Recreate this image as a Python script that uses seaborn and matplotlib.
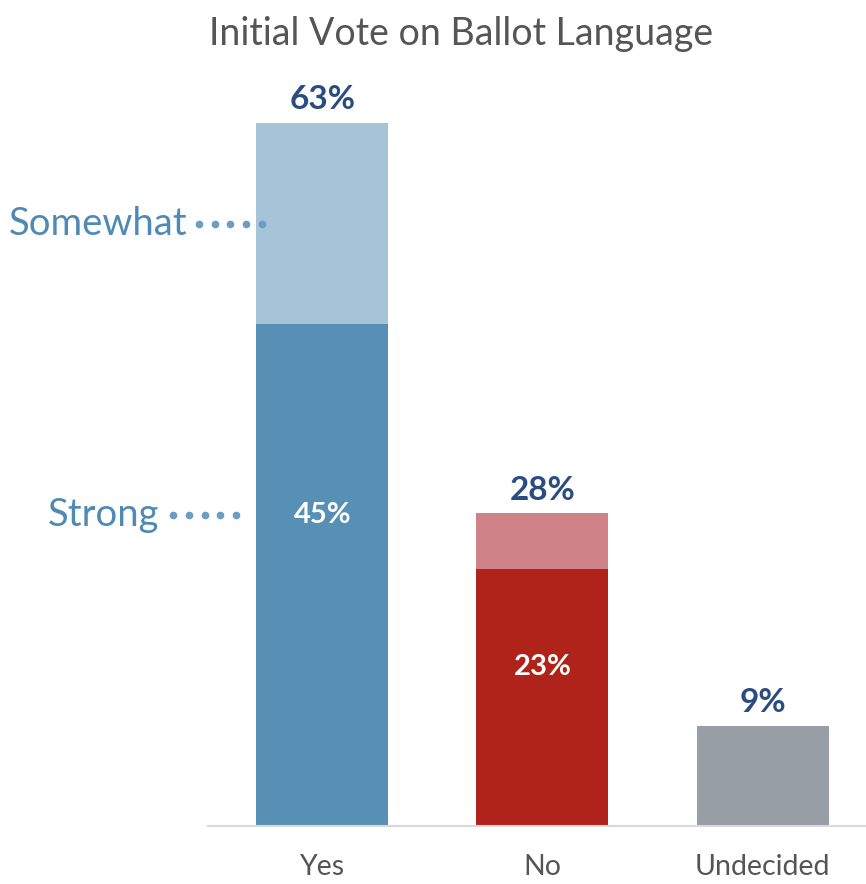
import seaborn as sns
import pandas as pd
import numpy as np
import matplotlib.pyplot as plt

# 데이터
categories = ['Yes', 'No', 'Undecided']
total_vote = [63, 28, 9]
strong_vote = [45, 23, 0]
total_labels = ['63%', '28%', '9%']
strong_labels = ['45%', '23%', '']

light_colors = ['#a5c4d8', '#cf8388', '#979ea5']
dark_colors = ['#578fb5', '#b0231b', '#979ea5']

df = pd.DataFrame({'answer': categories, 'total': total_vote, 'strong': strong_vote})

sns.set_style('white')
plt.rcParams['font.family'] = ['Lato', 'DejaVu Sans']

fig = plt.figure(figsize=(8.66, 8.84), dpi=100)
ax = fig.add_axes([0.240, 0.0656, 0.760, 0.884])

sns.barplot(data=df, x='answer', y='total', hue='answer', palette=light_colors,
            width=0.6, legend=False, ax=ax, saturation=1, linewidth=0)
sns.barplot(data=df, x='answer', y='strong', hue='answer', palette=dark_colors,
            width=0.6, legend=False, ax=ax, saturation=1, linewidth=0)

ax.set_xlim(-0.52, 2.47)
ax.set_ylim(0, 70)

# 막대 위 라벨
for i, (t, lab) in enumerate(zip(total_vote, total_labels)):
    ax.annotate(lab, (i, t), xytext=(0, 6), textcoords='offset points',
                ha='center', va='bottom', fontsize=24, fontweight='bold', color='#2b4c80')
for i, (s, lab) in enumerate(zip(strong_vote, strong_labels)):
    if lab:
        ax.text(i, s * 0.62, lab, ha='center', va='center', fontsize=21,
                fontweight='bold', color='white')

# 왼쪽 설명 라벨 + 점선
somewhat_y = (strong_vote[0] + total_vote[0]) / 2 - 0.1
strong_y = strong_vote[0] * 0.62
ax.text(-0.615, somewhat_y, 'Somewhat', ha='right', va='center', fontsize=27.5,
        color='#4f8ab5', clip_on=False)
ax.plot(np.linspace(-0.56, -0.275, 5), [somewhat_y] * 5, 'o', ms=4.5,
        color='#6b9cc2', clip_on=False)
ax.text(-0.74, strong_y, 'Strong', ha='right', va='center', fontsize=27.5,
        color='#4f8ab5', clip_on=False)
ax.plot(np.linspace(-0.68, -0.39, 5), [strong_y] * 5, 'o', ms=4.5,
        color='#6b9cc2', clip_on=False)

ax.set_xlabel('')
ax.set_ylabel('')
ax.set_yticks([])
ax.tick_params(axis='x', labelsize=20.5, labelcolor='#555555', length=0, pad=20)
sns.despine(ax=ax, left=True, right=True, top=True)
ax.spines['bottom'].set_color('#d9d9d9')
ax.spines['bottom'].set_linewidth(1.5)

fig.text(0.532, 0.962, 'Initial Vote on Ballot Language', ha='center', va='center',
         fontsize=27, color='#555555')

fig.savefig('out.png', dpi=100)
